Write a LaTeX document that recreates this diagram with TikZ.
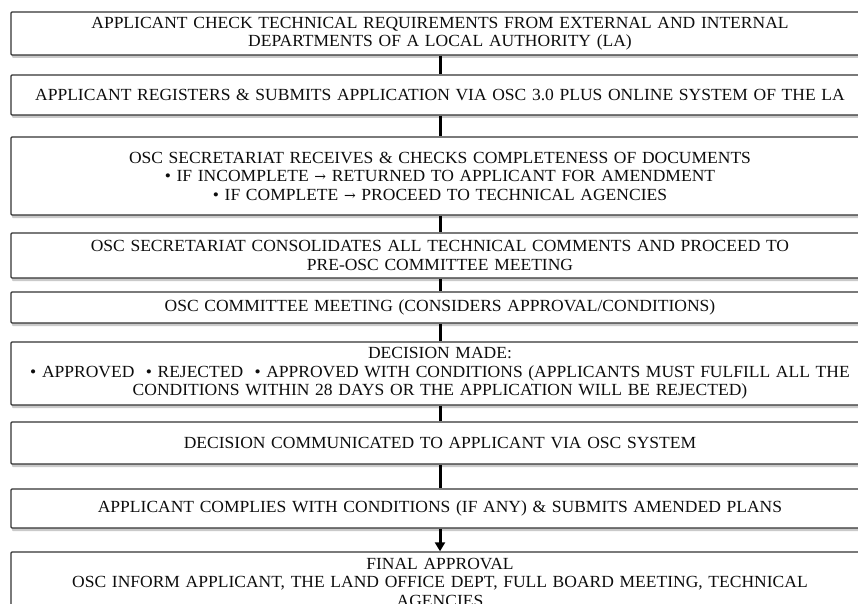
\documentclass[tikz,border=0pt]{standalone}
\usepackage{fontspec}
\setmainfont[FakeStretch=1.03]{Liberation Serif}
\newfontfamily\arrowfont{DejaVu Serif}
\newcommand\rarr{{\arrowfont\fontsize{14}{18}\selectfont →}}
\usetikzlibrary{shadows,arrows.meta}
\begin{document}
\begin{tikzpicture}[x=1pt,y=-1pt,
  stepbox/.style={draw=black!80, line width=1.4pt, fill=white, rounded corners=1pt,
    minimum width=858pt, text width=854pt, align=center, inner sep=0pt,
    font=\fontsize{17}{18.5}\selectfont, text=black!95,
    drop shadow={shadow xshift=1pt, shadow yshift=-3pt, opacity=0.35, fill=black!60}},
  conn/.style={line width=3pt, black}]
\useasboundingbox (0,0) rectangle (858,604);
\clip (0,0) rectangle (858,604);
\node[stepbox, minimum height=43pt] (b1) at (440,33.5) {APPLICANT CHECK TECHNICAL REQUIREMENTS FROM EXTERNAL AND INTERNAL\\DEPARTMENTS OF A LOCAL AUTHORITY (LA)};
\node[stepbox, minimum height=40pt] (b2) at (440,95) {APPLICANT REGISTERS \& SUBMITS APPLICATION VIA OSC 3.0 PLUS ONLINE SYSTEM OF THE LA};
\node[stepbox, minimum height=78pt] (b3) at (440,176) {OSC SECRETARIAT RECEIVES \& CHECKS COMPLETENESS OF DOCUMENTS\\• IF INCOMPLETE \rarr{} RETURNED TO APPLICANT FOR AMENDMENT\\• IF COMPLETE \rarr{} PROCEED TO TECHNICAL AGENCIES};
\node[stepbox, minimum height=45pt] (b4) at (440,255.5) {OSC SECRETARIAT CONSOLIDATES ALL TECHNICAL COMMENTS AND PROCEED TO\\PRE-OSC COMMITTEE MEETING};
\node[stepbox, minimum height=31pt] (b5) at (440,307.5) {OSC COMMITTEE MEETING (CONSIDERS APPROVAL/CONDITIONS)};
\node[stepbox, minimum height=63pt] (b6) at (440,373.5) {DECISION MADE:\\• APPROVED \ • REJECTED \ • APPROVED WITH CONDITIONS (APPLICANTS MUST FULFILL ALL THE\\CONDITIONS WITHIN 28 DAYS OR THE APPLICATION WILL BE REJECTED)};
\node[stepbox, minimum height=42pt] (b7) at (440,443) {DECISION COMMUNICATED TO APPLICANT VIA OSC SYSTEM};
\node[stepbox, minimum height=39pt] (b8) at (440,508.5) {APPLICANT COMPLIES WITH CONDITIONS (IF ANY) \& SUBMITS AMENDED PLANS};
\node[stepbox, minimum height=60pt] (b9) at (440,582) {FINAL APPROVAL\\OSC INFORM APPLICANT, THE LAND OFFICE DEPT, FULL BOARD MEETING, TECHNICAL\\AGENCIES};
\draw[conn] (b1.south) -- (b2.north);
\draw[conn] (b2.south) -- (b3.north);
\draw[conn] (b3.south) -- (b4.north);
\draw[conn] (b4.south) -- (b5.north);
\draw[conn] (b5.south) -- (b6.north);
\draw[conn] (b6.south) -- (b7.north);
\draw[conn] (b7.south) -- (b8.north);
\draw[conn, -{Triangle[length=9pt,width=10pt]}] (b8.south) -- (b9.north);
\end{tikzpicture}
\end{document}
